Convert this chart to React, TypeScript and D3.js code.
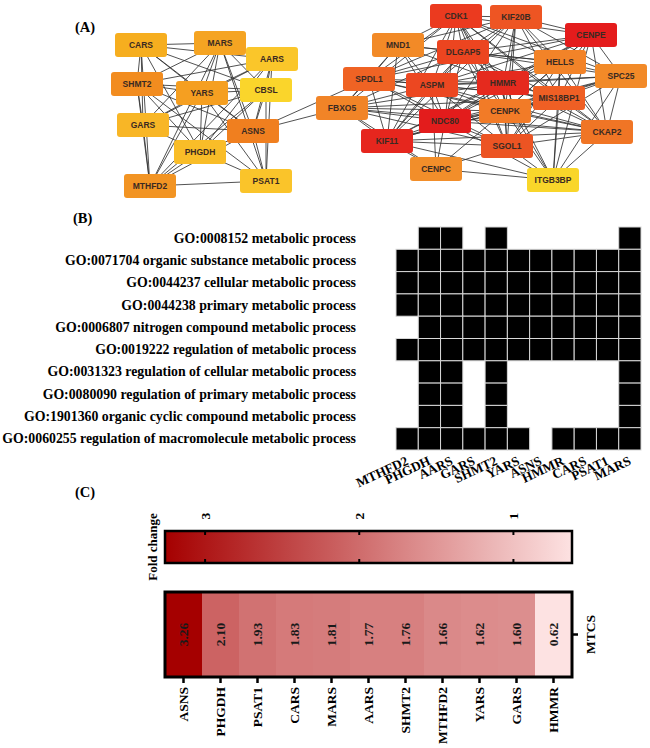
import React from "react";
import * as d3 from "d3";

const serif = "'Liberation Serif', 'Times New Roman', serif";
const sans = "'Liberation Sans', Arial, sans-serif";

// ---- (A) PPI network ----
const netGenes = [
  "CARS", "MARS", "AARS", "SHMT2", "YARS", "CBSL", "GARS", "ASNS", "PHGDH", "MTHFD2", "PSAT1",
  "CDK1", "KIF20B", "CENPE", "MND1", "DLGAP5", "HELLS", "SPC25", "SPDL1", "ASPM", "HMMR",
  "MIS18BP1", "FBXO5", "CENPK", "NDC80", "CKAP2", "KIF11", "SGOL1", "CENPC", "ITGB3BP",
];
// layout coordinates (layout units)
const netLayoutX = [
  8.2, 24, 34.4, 7.4, 20.4, 33.2, 8.6, 30.6, 20, 10, 33.2,
  71.2, 83.2, 98.2, 59.6, 72.6, 92, 104.2, 53.8, 66.4, 80.6,
  91.8, 48.4, 81, 69, 101.4, 57.4, 81.4, 67.2, 90.6,
];
const netLayoutY = [
  22.5, 21.5, 29.5, 42, 46.5, 45, 62.5, 65.5, 76, 93, 90.5,
  8, 8.5, 17.5, 22.5, 26, 31, 38, 39.5, 42.5, 41.5,
  49, 54, 55.5, 60.5, 66, 70.5, 73, 84.5, 90,
];
const netColors = [
  "#f6ae1f", "#f5a422", "#fac62a", "#f28c1f", "#f59f21", "#fad52b", "#f8b626", "#f07f1f", "#f9bd28", "#f29423", "#fac42a",
  "#eb3a1f", "#ee5523", "#e41c1c", "#f28a27", "#ec4520", "#f28328", "#f28a28", "#ef6324", "#ec4721", "#e52a1e",
  "#ef5f24", "#f18427", "#f27b27", "#e31c1c", "#f07525", "#e6261e", "#ec5423", "#f28e2a", "#f9d62a",
];
// first gene of each line is linked to the rest
const netLinks = [
  "CARS MARS AARS YARS CBSL ASNS SHMT2 GARS MTHFD2 PHGDH",
  "MARS SHMT2 YARS GARS PHGDH ASNS PSAT1 MTHFD2 CBSL AARS",
  "AARS SHMT2 YARS ASNS PSAT1 PHGDH GARS CBSL MTHFD2",
  "SHMT2 YARS CBSL GARS MTHFD2 PHGDH ASNS PSAT1",
  "YARS CBSL GARS ASNS PHGDH MTHFD2 PSAT1",
  "CBSL ASNS PHGDH PSAT1 MTHFD2 GARS",
  "GARS ASNS MTHFD2 PHGDH",
  "ASNS PHGDH PSAT1 MTHFD2 SPDL1 FBXO5",
  "PHGDH MTHFD2 PSAT1",
  "MTHFD2 PSAT1",
  "CDK1 KIF20B CENPE MND1 DLGAP5 HELLS SPDL1 ASPM HMMR MIS18BP1 FBXO5 CENPK NDC80 KIF11 SGOL1 SPC25 CKAP2 ITGB3BP",
  "KIF20B CENPE DLGAP5 HELLS SPC25 ASPM HMMR MIS18BP1 SPDL1 MND1 NDC80 KIF11 CKAP2 SGOL1 CENPK",
  "CENPE DLGAP5 HELLS SPC25 HMMR MIS18BP1 CKAP2 SGOL1 NDC80 ASPM KIF11 CENPK ITGB3BP SPDL1",
  "MND1 DLGAP5 SPDL1 ASPM HMMR FBXO5 KIF11 NDC80 HELLS",
  "DLGAP5 SPDL1 ASPM HMMR HELLS SPC25 MIS18BP1 FBXO5 NDC80 KIF11 CENPK SGOL1 CKAP2",
  "HELLS HMMR SPC25 MIS18BP1 CKAP2 CENPK ASPM NDC80 SGOL1 ITGB3BP",
  "SPC25 HMMR MIS18BP1 CKAP2 NDC80 SGOL1 ASPM CENPK ITGB3BP KIF11",
  "SPDL1 ASPM FBXO5 KIF11 NDC80 HMMR CENPK SGOL1 CKAP2 MIS18BP1",
  "ASPM HMMR FBXO5 NDC80 KIF11 CENPK SGOL1 MIS18BP1 CKAP2 CENPC",
  "HMMR MIS18BP1 CENPK NDC80 KIF11 SGOL1 CKAP2 FBXO5 ITGB3BP",
  "MIS18BP1 CENPK CKAP2 SGOL1 NDC80 KIF11 FBXO5 ITGB3BP",
  "FBXO5 NDC80 KIF11 CENPK SGOL1 CENPC CKAP2",
  "CENPK NDC80 SGOL1 CKAP2 KIF11 CENPC ITGB3BP",
  "NDC80 KIF11 SGOL1 CENPC CKAP2 ITGB3BP",
  "CKAP2 SGOL1 KIF11 ITGB3BP",
  "KIF11 SGOL1 CENPC ITGB3BP",
  "SGOL1 CENPC ITGB3BP",
  "CENPC ITGB3BP",
];

// ---- (B) GO enrichment ----
const goTerms = [
  "GO:0008152 metabolic process",
  "GO:0071704 organic substance metabolic process",
  "GO:0044237 cellular metabolic process",
  "GO:0044238 primary metabolic process",
  "GO:0006807 nitrogen compound metabolic process",
  "GO:0019222 regulation of metabolic process",
  "GO:0031323 regulation of cellular metabolic process",
  "GO:0080090 regulation of primary metabolic process",
  "GO:1901360 organic cyclic compound metabolic process",
  "GO:0060255 regulation of macromolecule metabolic process",
];
const goGenes = ["MTHFD2", "PHGDH", "AARS", "GARS", "SHMT2", "YARS", "ASNS", "HMMR", "CARS", "PSAT1", "MARS"];
const goHits = [
  "01101000001",
  "11111111111",
  "11111111111",
  "11111111111",
  "01111111111",
  "11111111111",
  "01101000001",
  "01101000001",
  "01101000001",
  "11111101111",
];

// ---- (C) fold change ----
const fcGenes = ["ASNS", "PHGDH", "PSAT1", "CARS", "MARS", "AARS", "SHMT2", "MTHFD2", "YARS", "GARS", "HMMR"];
const fcValues = [3.26, 2.1, 1.93, 1.83, 1.81, 1.77, 1.76, 1.66, 1.62, 1.6, 0.62];
const fcTicks = [3, 2, 1];

export default function App() {
  // network scales
  const nx = d3.scaleLinear().domain([0, 110]).range([100, 650]);
  const ny = d3.scaleLinear().domain([0, 100]).range([0, 200]);
  const nodeW = 52;
  const nodeH = 24;
  const pos = new Map(netGenes.map((g, i) => [g, [nx(netLayoutX[i]), ny(netLayoutY[i])]]));
  const links: [string, string][] = [];
  netLinks.forEach((line) => {
    const [src, ...rest] = line.split(" ");
    rest.forEach((t) => links.push([src, t]));
  });

  // GO grid
  const gx = d3.scaleBand().domain(goGenes).range([396, 641]);
  const gy = d3.scaleBand().domain(goTerms).range([227, 450]);

  // fold change
  const fcMin = d3.min(fcValues)!;
  const fcMax = d3.max(fcValues)!;
  const barX = d3.scaleLinear().domain([fcMax, fcMin]).range([165, 572]);
  const color = d3.scaleLinear<string>().domain([fcMax, fcMin]).range(["#a50000", "#fde2e2"]);
  const hx = d3.scaleBand().domain(fcGenes).range([165, 572]);
  const barTop = 531, barBot = 563;
  const hmTop = 592, hmBot = 677;
  const stops = d3.range(0, 1.0001, 0.1);

  return (
    <svg width={650} height={748} style={{ position: "absolute", left: 0, top: 0, background: "#fff" }}>
      <defs>
        <linearGradient id="fcgrad" x1="0" x2="1" y1="0" y2="0">
          {stops.map((s) => (
            <stop key={s} offset={s} stopColor={color(fcMax + (fcMin - fcMax) * s)} />
          ))}
        </linearGradient>
      </defs>

      {/* (A) */}
      <text x={75} y={32} fontFamily={serif} fontWeight="bold" fontSize={14.5}>(A)</text>
      <g>
        {links.map(([a, b], i) => {
          const p = pos.get(a)!;
          const q = pos.get(b)!;
          return <line key={i} x1={p[0]} y1={p[1]} x2={q[0]} y2={q[1]} stroke="#333" strokeWidth={0.85} />;
        })}
      </g>
      <g>
        {netGenes.map((g, i) => {
          const [cx, cy] = pos.get(g)!;
          return (
            <g key={g} transform={`translate(${cx},${cy})`}>
              <rect x={-nodeW / 2} y={-nodeH / 2} width={nodeW} height={nodeH} rx={3} fill={netColors[i]} />
              <text
                textAnchor="middle"
                dominantBaseline="central"
                fontFamily={sans}
                fontWeight="bold"
                fontSize={8.5}
                fill="#3a2a22"
              >
                {g}
              </text>
            </g>
          );
        })}
      </g>

      {/* (B) */}
      <text x={73} y={223} fontFamily={serif} fontWeight="bold" fontSize={14.5}>(B)</text>
      {goTerms.map((t, r) => (
        <g key={t}>
          <text
            x={356}
            y={gy(t)! + gy.bandwidth() / 2}
            textAnchor="end"
            dominantBaseline="central"
            fontFamily={serif}
            fontWeight="bold"
            fontSize={13.8}
          >
            {t}
          </text>
          {goGenes.map((g, c) =>
            goHits[r][c] === "1" ? (
              <rect
                key={g}
                x={gx(g)}
                y={gy(t)}
                width={gx.bandwidth()}
                height={gy.bandwidth()}
                fill="#000"
                stroke="#d8d8d8"
                strokeWidth={1}
              />
            ) : null
          )}
        </g>
      ))}
      {goGenes.map((g) => {
        const ax = gx(g)! + gx.bandwidth() / 2 + 2;
        const ay = 464;
        return (
          <text
            key={g}
            x={ax}
            y={ay}
            transform={`rotate(-25,${ax},${ay})`}
            textAnchor="end"
            fontFamily={serif}
            fontWeight="bold"
            fontSize={13.2}
          >
            {g}
          </text>
        );
      })}

      {/* (C) */}
      <text x={75} y={497} fontFamily={serif} fontWeight="bold" fontSize={14.5}>(C)</text>
      <text
        x={152}
        y={(barTop + barBot) / 2}
        transform={`rotate(-90,152,${(barTop + barBot) / 2})`}
        textAnchor="middle"
        dominantBaseline="central"
        fontFamily={serif}
        fontWeight="bold"
        fontSize={13}
      >
        Fold change
      </text>
      <rect x={165} y={barTop} width={572 - 165} height={barBot - barTop} fill="url(#fcgrad)" stroke="#000" strokeWidth={2.5} />
      {fcTicks.map((t) => (
        <g key={t}>
          <line x1={barX(t)} x2={barX(t)} y1={barTop} y2={barTop + 4} stroke="#000" strokeWidth={2} />
          <line x1={barX(t)} x2={barX(t)} y1={barBot} y2={barBot - 4} stroke="#000" strokeWidth={2} />
          <text
            x={barX(t)}
            y={516}
            transform={`rotate(-90,${barX(t)},516)`}
            textAnchor="middle"
            dominantBaseline="central"
            fontFamily={serif}
            fontWeight="bold"
            fontSize={13.5}
          >
            {t}
          </text>
        </g>
      ))}

      {fcGenes.map((g, i) => {
        const cx = hx(g)! + hx.bandwidth() / 2;
        const cy = (hmTop + hmBot) / 2;
        return (
          <g key={g}>
            <rect x={hx(g)} y={hmTop} width={hx.bandwidth() + 0.5} height={hmBot - hmTop} fill={color(fcValues[i])} />
            <text
              x={cx}
              y={cy}
              transform={`rotate(-90,${cx},${cy})`}
              textAnchor="middle"
              dominantBaseline="central"
              fontFamily={serif}
              fontWeight="bold"
              fontSize={13.5}
              fill="#1a1a1a"
            >
              {fcValues[i].toFixed(2)}
            </text>
            <line x1={cx} x2={cx} y1={hmBot} y2={hmBot + 6} stroke="#000" strokeWidth={2.5} />
            <text
              x={cx}
              y={687}
              transform={`rotate(-90,${cx},687)`}
              textAnchor="end"
              dominantBaseline="central"
              fontFamily={serif}
              fontWeight="bold"
              fontSize={13.5}
            >
              {g}
            </text>
          </g>
        );
      })}
      <rect x={165} y={hmTop} width={572 - 165} height={hmBot - hmTop} fill="none" stroke="#000" strokeWidth={3} />
      <line x1={572} x2={578} y1={(hmTop + hmBot) / 2} y2={(hmTop + hmBot) / 2} stroke="#000" strokeWidth={2.5} />
      <text
        x={590}
        y={(hmTop + hmBot) / 2}
        transform={`rotate(-90,590,${(hmTop + hmBot) / 2})`}
        textAnchor="middle"
        dominantBaseline="central"
        fontFamily={serif}
        fontWeight="bold"
        fontSize={13.5}
      >
        MTCS
      </text>
    </svg>
  );
}
